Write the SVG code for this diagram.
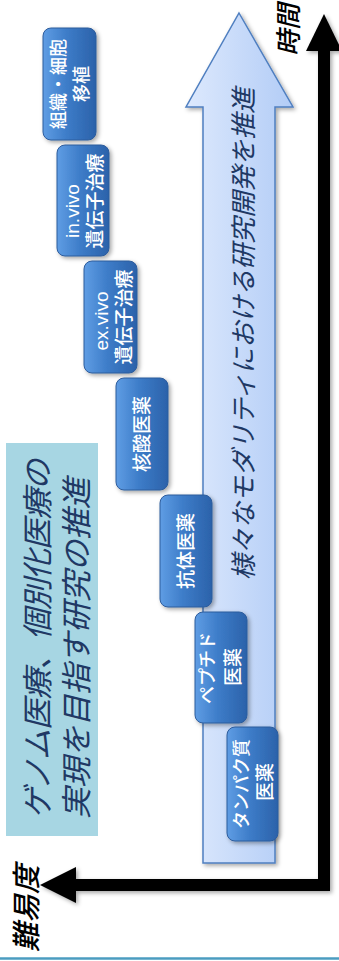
<svg xmlns="http://www.w3.org/2000/svg" width="339" height="961" viewBox="0 0 339 961">
<defs>
<linearGradient id="boxGrad" x1="0" y1="0" x2="1" y2="0">
<stop offset="0" stop-color="#5f9de4"/>
<stop offset="0.45" stop-color="#3d7cc8"/>
<stop offset="1" stop-color="#2b62aa"/>
</linearGradient>
<linearGradient id="arrowGrad" x1="0" y1="0" x2="1" y2="0">
<stop offset="0" stop-color="#dde9fd"/>
<stop offset="1" stop-color="#b2ccf6"/>
</linearGradient>
<filter id="shadow" x="-20%" y="-20%" width="150%" height="150%">
<feDropShadow dx="2" dy="2" stdDeviation="2" flood-color="#000" flood-opacity="0.35"/>
</filter>
</defs>
<style>
.box{fill:url(#boxGrad);stroke:#2d5c9c;stroke-width:1;filter:url(#shadow)}
.bt{fill:#fff;font-family:"Liberation Sans","Noto Sans CJK JP",sans-serif;font-size:19px;font-weight:500;text-anchor:middle;dominant-baseline:central}
.kt{font-size:18px}
.navy{fill:#203864;font-family:"Noto Sans CJK JP",sans-serif;font-style:italic;dominant-baseline:central}
.axlab{fill:#000;font-family:"Noto Sans CJK JP",sans-serif;font-style:italic;font-weight:500;dominant-baseline:central}
</style>

<!-- bottom rule -->
<line x1="0" y1="958.5" x2="339" y2="958.5" stroke="#4b9cc0" stroke-width="2.5"/>

<!-- goal box -->
<g id="goal">
<rect x="6" y="443" width="92" height="393" fill="#a7d6e3"/>
<text class="navy" font-size="31" letter-spacing="-1" transform="translate(35,819) rotate(-90)">ゲノム医療、個別化医療の</text>
<text class="navy" font-size="31" transform="translate(74,819) rotate(-90)">実現を目指す研究の推進</text>
</g>

<!-- progress arrow -->
<g id="progress-arrow">
<polygon points="239,13 293,107 275,107 275,863 203,863 203,107 186,107" fill="url(#arrowGrad)" stroke="#4f7fc0" stroke-width="1.5" filter="url(#shadow)"/>
<text class="navy" font-size="26" text-anchor="middle" transform="translate(241.5,334) rotate(-90)">様々なモダリティにおける研究開発を推進</text>
</g>

<!-- axes (connectors) -->
<g id="connectors" filter="url(#shadow)">
<path d="M324,48 V885 H72" fill="none" stroke="#000" stroke-width="12"/>
<polygon points="324,14 306,51 342,51" fill="#000"/>
<polygon points="40,885 76,867 76,903" fill="#000"/>
</g>

<g id="label-time">
<text class="axlab" font-size="26" transform="translate(286,56) rotate(-90)">時間</text>
</g>
<g id="label-difficulty">
<text class="axlab" font-size="29" transform="translate(24,952) rotate(-90)">難易度</text>
</g>

<!-- modality boxes -->
<g id="tissue-cell">
<rect class="box" x="43" y="28" width="53" height="112" rx="8"/>
<text class="bt kt" transform="translate(59,84) rotate(-90)">組織・細胞</text>
<text class="bt kt" transform="translate(82,84) rotate(-90)">移植</text>
</g>
<g id="invivo">
<rect class="box" x="57" y="145" width="52" height="111" rx="8"/>
<text class="bt" font-size="18" transform="translate(72,211) rotate(-90)">in.vivo</text>
<text class="bt" transform="translate(95,201) rotate(-90)">遺伝子治療</text>
</g>
<g id="exvivo">
<rect class="box" x="84" y="261" width="53" height="112" rx="8"/>
<text class="bt" font-size="20" transform="translate(101,321) rotate(-90)">ex.vivo</text>
<text class="bt" transform="translate(124,317) rotate(-90)">遺伝子治療</text>
</g>
<g id="nucleic">
<rect class="box" x="116" y="378" width="52" height="112" rx="8"/>
<text class="bt" font-size="20" transform="translate(142,434) rotate(-90)">核酸医薬</text>
</g>
<g id="antibody">
<rect class="box" x="160" y="495" width="52" height="112" rx="8"/>
<text class="bt" font-size="20" transform="translate(186,551) rotate(-90)">抗体医薬</text>
</g>
<g id="peptide">
<rect class="box" x="195" y="612" width="52" height="111" rx="8"/>
<text class="bt kt" transform="translate(208,668) rotate(-90)">ペプチド</text>
<text class="bt" transform="translate(233,667) rotate(-90)">医薬</text>
</g>
<g id="protein">
<rect class="box" x="227" y="727" width="51" height="114" rx="8"/>
<text class="bt kt" transform="translate(242,784) rotate(-90)">タンパク質</text>
<text class="bt" transform="translate(265,782) rotate(-90)">医薬</text>
</g>
</svg>
